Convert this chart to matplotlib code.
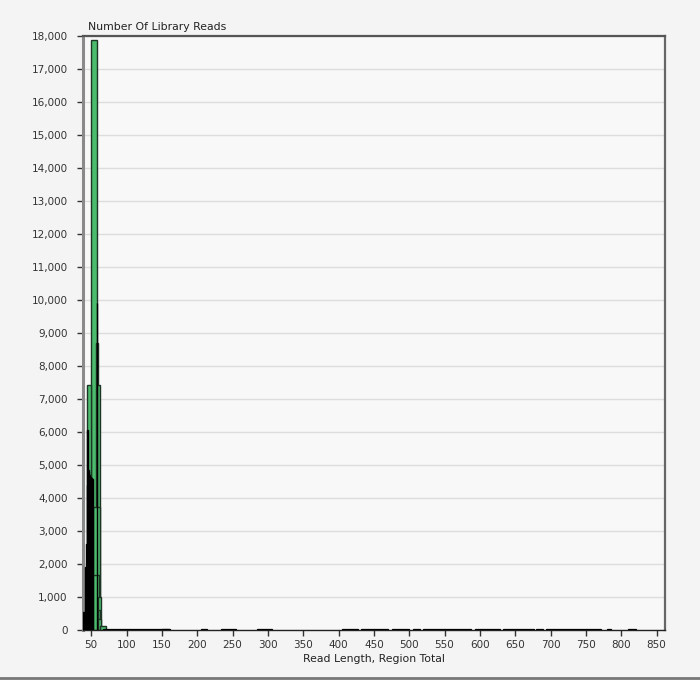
"""Read length histogram, region total."""

import matplotlib
matplotlib.use("Agg")
import matplotlib.pyplot as plt
from matplotlib.lines import Line2D
from matplotlib.ticker import FuncFormatter

# region-total bins: start length, end length, reads
green_start = [50, 57, 44, 58, 53, 53, 59, 59, 60, 62]
green_end = [58, 59, 50, 63, 62, 61, 64, 63, 64, 71]
green_reads = [17880, 8700, 7430, 7430, 3740, 1680, 990, 620, 320, 120]

# per-length counts in the main peak
peak_length = [39, 40, 41, 42, 43, 44, 45, 46, 47, 48, 49, 50, 51, 52, 58]
peak_reads = [540, 540, 540, 1900, 2600, 4400, 6070, 4850, 4800, 4700,
              4650, 4600, 4580, 4570, 9900]

# sparse long reads
tail_start = [66, 150, 205, 234, 284, 405, 432, 475, 505, 520, 593, 633,
              680, 693, 780, 810]
tail_end = [160, 162, 214, 255, 306, 428, 470, 500, 515, 588, 628, 677,
            690, 771, 786, 821]
tail_reads = [20, 35, 35, 35, 35, 35, 35, 35, 30, 35, 35, 35, 30, 35, 30, 35]

y_ticks = list(range(0, 18001, 1000))
x_ticks = list(range(50, 851, 50))

fig = plt.figure(figsize=(7.0, 6.8), dpi=100, facecolor="#f4f4f4")
ax = fig.add_axes([0.1186, 0.0735, 0.8314, 0.8735], facecolor="#f8f8f8")

ax.set_xlim(38.4, 862)
ax.set_ylim(0, 18000)

ax.yaxis.grid(True, color="#dddddd", linewidth=1.0)
ax.set_axisbelow(True)

green_width = [e - s for s, e in zip(green_start, green_end)]
ax.bar(green_start, green_reads, width=green_width, align="edge",
       color="#4cbb6d", edgecolor="#1d3524", linewidth=1.0, zorder=2)

ax.bar(peak_length, peak_reads, width=1.0, align="center",
       color="black", edgecolor="black", linewidth=1.0, zorder=3)

tail_width = [e - s for s, e in zip(tail_start, tail_end)]
ax.bar(tail_start, tail_reads, width=tail_width, align="edge",
       color="black", edgecolor="black", linewidth=0.9, zorder=3)

ax.set_yticks(y_ticks)
ax.set_xticks(x_ticks)
ax.yaxis.set_major_formatter(FuncFormatter(lambda v, _: f"{int(v):,}"))
ax.tick_params(axis="both", direction="out", length=4, width=1,
               color="#333333", labelcolor="#333333", labelsize=7.5)
ax.tick_params(axis="y", pad=7)
ax.tick_params(axis="x", pad=3)

for side, col, lw in [("top", "#555555", 1.6), ("right", "#666666", 1.6),
                      ("left", "#8a8a8a", 2.2), ("bottom", "#222222", 1.0)]:
    ax.spines[side].set_color(col)
    ax.spines[side].set_linewidth(lw)

fig.text(0.126, 0.953, "Number Of Library Reads", fontsize=7.8,
         color="#222222", ha="left", va="bottom")
ax.set_xlabel("Read Length, Region Total", fontsize=7.8, color="#222222",
              labelpad=3)

fig.add_artist(Line2D([0, 1], [0.003, 0.003], color="#777777", linewidth=2))

fig.savefig("out.png", dpi=100, facecolor=fig.get_facecolor())
